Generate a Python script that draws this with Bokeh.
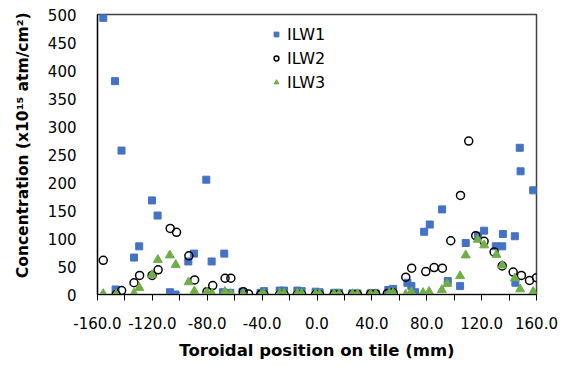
from bokeh.plotting import figure
from bokeh.models import Range1d, FixedTicker, Legend, LegendItem, Title
from bokeh.embed import file_html
from bokeh.resources import INLINE

# ---------------- data ----------------
ilw1_x = [-155.8, -147.3, -146.8, -142.5, -133.4, -129.6, -120.3, -116.2, -107.2, -103.1,
          -93.8, -89.7, -80.7, -76.8, -67.6, -68.5, -63.2, -54.2, -41.1, -38.6,
          -27.2, -24.0, -14.3, -11.2, -1.0, 1.9, 12.4, 16.1, 25.8, 29.5,
          39.1, 42.8, 52.0, 55.5, 65.9, 68.8, 71.5, 78.1, 82.2, 91.2,
          95.3, 104.3, 108.4, 117.4, 121.8, 130.3, 135.0, 135.5, 144.2, 144.6,
          147.8, 148.4, 157.6]
ilw1_y = [494, 381, 9, 257, 66, 86, 168, 141, 4, 0,
          59, 73, 205, 59, 73, 4, 3, 5, 3, 6,
          7, 7, 7, 6, 5, 4, 3, 3, 2, 2,
          2, 2, 8, 10, 21, 15, 4, 112, 125, 152,
          24, 15, 92, 105, 114, 86, 86, 108, 104, 21,
          262, 220, 186]

ilw2_x = [-155.8, -146.4, -142.4, -133.4, -129.3, -120.2, -115.8, -107.0, -102.4, -93.4,
          -89.2, -80.2, -76.0, -67.0, -62.8, -53.8, -49.9, -41.1, -38.6, -27.2,
          -24.0, -14.3, -11.2, -1.0, 1.9, 12.4, 16.1, 25.8, 29.5, 39.1,
          42.8, 51.3, 55.5, 64.7, 69.0, 79.3, 85.4, 91.4, 97.5, 104.6,
          110.6, 115.7, 121.8, 129.1, 135.0, 143.0, 149.0, 154.9, 160.0]
ilw2_y = [61, 0, 7, 21, 34, 34, 44, 118, 111, 69,
          26, 5, 16, 29, 29, 5, 1, 0, 0, 0,
          0, 0, 0, 0, 0, 0, 0, 0, 0, 1,
          1, 2, 3, 31, 47, 41, 48, 47, 96, 177,
          274, 105, 95, 76, 51, 40, 34, 25, 30]

ilw3_x = [-155.8, -146.4, -133.4, -129.5, -120.2, -116.0, -107.3, -103.0, -93.6, -89.4,
          -80.2, -76.5, -67.2, -62.8, -53.8, -40.6, -38.6, -27.2, -24.0, -14.3,
          -11.2, -1.0, 1.9, 12.4, 16.1, 25.8, 29.5, 39.1, 42.8, 52.6,
          55.5, 64.7, 68.8, 77.3, 81.7, 91.0, 95.0, 104.3, 108.4, 117.2,
          121.8, 130.8, 135.0, 144.2, 148.1, 157.6]
ilw3_y = [1, 0, 2, 12, 35, 62, 70, 53, 22, 6,
          4, 2, 5, 1, 1, 0, 1, 2, 2, 2,
          2, 1, 1, 1, 1, 1, 1, 1, 1, 2,
          3, 0, 5, 3, 5, 8, 19, 33, 70, 98,
          88, 71, 52, 29, 9.5, 5]

series_names = ["ILW1", "ILW2", "ILW3"]

x_major_ticks = [-160, -120, -80, -40, 0, 40, 80, 120, 160]
x_tick_labels = ["-160.0", "-120.0", "-80.0", "-40.0", "0.0", "40.0", "80.0", "120.0", "160.0"]
x_minor_ticks = [-140, -100, -60, -20, 20, 60, 100, 140]
y_ticks = [0, 50, 100, 150, 200, 250, 300, 350, 400, 450, 500]

x_title = "Toroidal position on tile (mm)"
y_title = "Concentration (x10\u00b9\u2075 atm/cm\u00b2)"

FONT = "DejaVu Sans"

# ---------------- figure ----------------
p = figure(frame_width=439, frame_height=280,
           min_border_left=95, min_border_right=26, min_border_top=14, min_border_bottom=70,
           x_range=Range1d(-160, 160), y_range=Range1d(0, 500),
           output_backend="svg", toolbar_location=None)

p.background_fill_color = "white"
p.border_fill_color = "white"
p.outline_line_color = "#404040"
p.outline_line_width = 1.5
p.xgrid.visible = False
p.ygrid.visible = False

# x axis
xa = p.xaxis[0]
xa.ticker = FixedTicker(ticks=x_major_ticks, minor_ticks=x_minor_ticks)
xa.major_label_overrides = {t: lab for t, lab in zip(x_major_ticks, x_tick_labels)}
xa.axis_line_color = "black"
xa.axis_line_width = 1.2
xa.major_tick_in = 0
xa.major_tick_out = 6
xa.minor_tick_in = 0
xa.minor_tick_out = 6
xa.major_tick_line_color = "black"
xa.minor_tick_line_color = "black"
xa.major_label_text_font = FONT
xa.major_label_text_font_size = "15px"
xa.major_label_text_color = "black"
xa.major_label_standoff = 16
xa.axis_label = x_title
xa.axis_label_text_font = FONT
xa.axis_label_text_font_style = "bold"
xa.axis_label_text_font_size = "16.5px"
xa.axis_label_text_color = "black"
xa.axis_label_standoff = 9

# y axis
ya = p.yaxis[0]
ya.ticker = FixedTicker(ticks=y_ticks)
ya.axis_line_color = "black"
ya.axis_line_width = 1.2
ya.major_tick_in = 0
ya.major_tick_out = 0
ya.minor_tick_in = 0
ya.minor_tick_out = 0
ya.major_label_text_font = FONT
ya.major_label_text_font_size = "15px"
ya.major_label_text_color = "black"
ya.major_label_standoff = 21

ytitle = Title(text=y_title, align="right", offset=-2, vertical_align="middle",
               text_font=FONT, text_font_style="bold", text_font_size="15.5px",
               text_color="black", standoff=24)
p.add_layout(ytitle, "left")

# series
r1 = p.scatter(ilw1_x, ilw1_y, marker="square", size=7, fill_color="#4472C4",
               line_color="#4472C4")
r2 = p.scatter(ilw2_x, ilw2_y, marker="circle", size=8, fill_color=None,
               line_color="black", line_width=1.5)
r3 = p.scatter(ilw3_x, ilw3_y, marker="triangle", size=9, fill_color="#70AD47",
               line_color="#70AD47")

legend = Legend(items=[LegendItem(label=series_names[0], renderers=[r1]),
                       LegendItem(label=series_names[1], renderers=[r2]),
                       LegendItem(label=series_names[2], renderers=[r3])],
                location=(173, 202), orientation="vertical",
                label_text_font=FONT, label_text_font_size="16px",
                label_text_color="black",
                glyph_width=12, glyph_height=20, label_height=20,
                label_standoff=5, spacing=4, padding=0, margin=0,
                border_line_color=None, background_fill_alpha=0)
p.add_layout(legend)

open("out.html", "w").write(file_html(p, INLINE))
